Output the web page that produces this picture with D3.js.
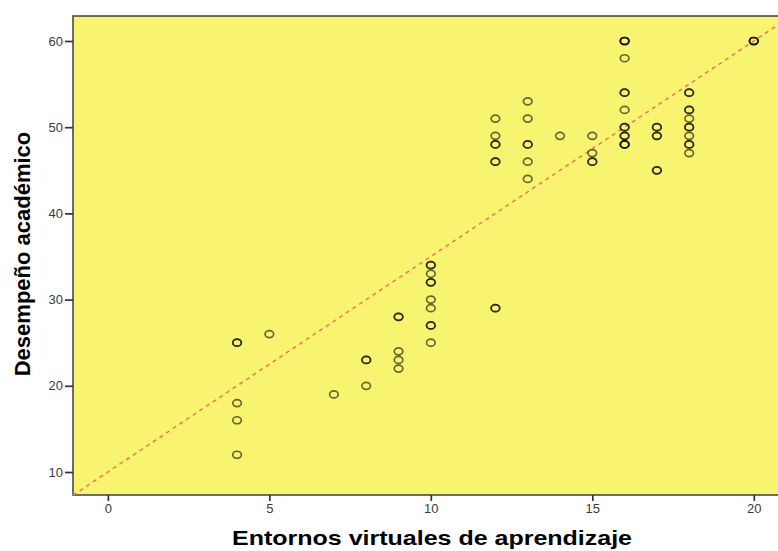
<!DOCTYPE html>
<html>
<head>
<meta charset="utf-8">
<script src="https://cdn.jsdelivr.net/npm/d3@7"></script>
<style>
  html, body { margin: 0; padding: 0; background: #ffffff; }
  svg { display: block; }
</style>
</head>
<body>
<svg id="chart" width="778" height="551"></svg>
<script>
// Entornos virtuales de aprendizaje (x) vs. Desempeño académico (y).
// Repeated pairs are listed once per case; overlapping rings darken.
const entornos = [
  4, 4, 4, 4, 4,
  5,
  7,
  8, 8, 8,
  9, 9, 9, 9, 9,
  10, 10, 10, 10, 10, 10, 10, 10, 10, 10,
  12, 12, 12, 12, 12, 12, 12, 12,
  13, 13, 13, 13, 13, 13,
  14,
  15, 15, 15, 15,
  16, 16, 16, 16, 16, 16, 16, 16, 16, 16, 16, 16, 16, 16,
  17, 17, 17, 17, 17, 17,
  18, 18, 18, 18, 18, 18, 18, 18, 18, 18, 18,
  20, 20, 20
];
const desempeno = [
  25, 25, 18, 16, 12,
  26,
  19,
  23, 23, 20,
  28, 28, 24, 23, 22,
  34, 34, 33, 32, 32, 30, 29, 27, 27, 25,
  51, 49, 48, 48, 46, 46, 29, 29,
  53, 51, 48, 48, 46, 44,
  49,
  49, 47, 46, 46,
  60, 60, 60, 58, 54, 54, 52, 50, 50, 49, 49, 48, 48, 48,
  50, 50, 49, 49, 45, 45,
  54, 54, 52, 52, 51, 50, 50, 49, 48, 48, 47,
  60, 60, 60
];

const xTicks = [0, 5, 10, 15, 20];
const yTicks = [10, 20, 30, 40, 50, 60];
const xDomain = [-1.08, 20.75];
const yDomain = [7.33, 62.9];
const xLabel = "Entornos virtuales de aprendizaje";
const yLabel = "Desempeño académico";

const svg = d3.select("#chart");
const margin = { left: 73, top: 16, right: 0, bottom: 56 };
const width = 778, height = 551;
const plotW = width - margin.left - margin.right;
const plotH = height - margin.top - margin.bottom;

const x = d3.scaleLinear().domain(xDomain).range([0, plotW]);
const y = d3.scaleLinear().domain(yDomain).range([plotH, 0]);

const g = svg.append("g").attr("transform", `translate(${margin.left},${margin.top})`);

// Plot background
g.append("rect")
  .attr("x", 0).attr("y", 0)
  .attr("width", plotW + 4).attr("height", plotH)
  .attr("fill", "#f9f46f")
  .attr("stroke", "#4a4a4a")
  .attr("stroke-width", 1.6);

g.append("clipPath").attr("id", "clip")
  .append("rect").attr("width", plotW).attr("height", plotH);

// Reference line across the plot
const refX = xDomain;
const refY = [10 + 2.5 * refX[0], 10 + 2.5 * refX[1]];
g.append("line")
  .attr("clip-path", "url(#clip)")
  .attr("x1", x(refX[0])).attr("y1", y(refY[0]))
  .attr("x2", x(refX[1])).attr("y2", y(refY[1]))
  .attr("stroke", "#f07a5a")
  .attr("stroke-width", 1.6)
  .attr("stroke-dasharray", "4,4");

// Points
const pts = entornos.map((v, i) => ({ x: v, y: desempeno[i] }));
g.append("g").selectAll("ellipse")
  .data(pts)
  .join("ellipse")
  .attr("cx", d => x(d.x))
  .attr("cy", d => y(d.y))
  .attr("rx", 4.3)
  .attr("ry", 3.5)
  .attr("fill", "none")
  .attr("stroke", "#000000")
  .attr("stroke-opacity", 0.58)
  .attr("stroke-width", 1.7);

// Axes
const xAxis = d3.axisBottom(x).tickValues(xTicks).tickSize(6).tickPadding(3);
const yAxis = d3.axisLeft(y).tickValues(yTicks).tickSize(8).tickPadding(2);

const gx = g.append("g").attr("transform", `translate(0,${plotH})`).call(xAxis);
const gy = g.append("g").call(yAxis);

[gx, gy].forEach(a => {
  a.select(".domain").remove();
  a.selectAll(".tick line").attr("stroke", "#333").attr("stroke-width", 1.7);
  a.selectAll(".tick text")
    .attr("fill", "#3a3a3a")
    .style("font-family", "Liberation Sans, Arial, sans-serif")
    .style("font-size", "13px");
});

// Axis titles
svg.append("text")
  .attr("x", 432).attr("y", 545)
  .attr("text-anchor", "middle")
  .attr("textLength", 400)
  .attr("lengthAdjust", "spacingAndGlyphs")
  .style("font-family", "Liberation Sans, Arial, sans-serif")
  .style("font-weight", "bold")
  .style("font-size", "21px")
  .attr("fill", "#000")
  .text(xLabel);

svg.append("text")
  .attr("transform", "translate(30,254) rotate(-90)")
  .attr("text-anchor", "middle")
  .style("font-family", "Liberation Sans, Arial, sans-serif")
  .style("font-weight", "bold")
  .style("font-size", "22px")
  .attr("fill", "#000")
  .text(yLabel);
</script>
</body>
</html>
